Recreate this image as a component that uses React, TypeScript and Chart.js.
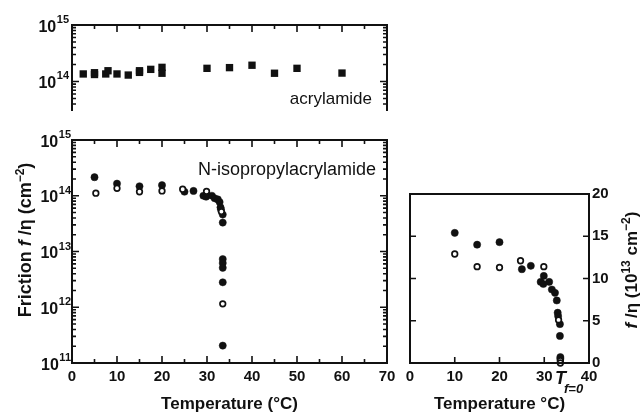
import React, { useEffect, useRef } from 'react';
import { Chart, registerables } from 'chart.js';
Chart.register(...registerables);

const W = 641;
const H = 416;
const FAMILY = '"Liberation Sans", Arial, Helvetica, sans-serif';
const INK = '#111';

// ---------- data: top panel (acrylamide), friction f/eta in cm^-2 ----------
const acrylT = [2.5, 5, 5, 7.5, 8, 10, 12.5, 15, 15, 17.5, 20, 20, 30, 35, 40, 45, 50, 60];
const acrylF = [1.36e14, 1.43e14, 1.33e14, 1.36e14, 1.55e14, 1.36e14, 1.3e14, 1.55e14, 1.45e14, 1.64e14, 1.78e14, 1.4e14, 1.71e14, 1.76e14, 1.94e14, 1.4e14, 1.71e14, 1.41e14];

// ---------- data: middle panel (N-isopropylacrylamide), log scale ----------
const nipaFilledT = [5, 10, 15, 20, 25, 27, 29.2, 29.8, 29.9, 31.1, 31.7, 32.4, 32.8, 33.0, 33.1, 33.5, 33.5, 33.5, 33.5, 33.5, 33.5, 33.5];
const nipaFilledF = [2.15e14, 1.65e14, 1.48e14, 1.55e14, 1.18e14, 1.22e14, 1.0e14, 0.96e14, 1.07e14, 1.0e14, 0.9e14, 0.86e14, 0.77e14, 0.62e14, 0.57e14, 4.6e13, 3.3e13, 7.3e12, 6.2e12, 5.1e12, 2.8e12, 2.05e11];
const nipaOpenT = [5.3, 10, 15, 20, 24.6, 29.9, 33.2, 33.5];
const nipaOpenF = [1.11e14, 1.36e14, 1.18e14, 1.22e14, 1.31e14, 1.2e14, 5.2e13, 1.15e12];

// ---------- data: right panel, linear, units of 10^13 cm^-2 ----------
const linFilledT = [10, 15, 20, 25, 27, 29.2, 29.8, 29.9, 31.1, 31.7, 32.4, 32.8, 33.0, 33.1, 33.5, 33.5, 33.6, 33.6];
const linFilledV = [15.4, 14.0, 14.3, 11.1, 11.5, 9.6, 9.35, 10.3, 9.6, 8.7, 8.3, 7.4, 5.95, 5.55, 4.6, 3.2, 0.7, 0.5];
const linOpenT = [10, 15, 20, 24.7, 29.9, 33.2, 33.6, 33.6];
const linOpenV = [12.9, 11.4, 11.3, 12.1, 11.4, 5.1, 0.27, 0.0];

// ---------- ticks / labels ----------
const tempMajor = [0, 10, 20, 30, 40, 50, 60, 70];
const tempMinor = [5, 15, 25, 35, 45, 55, 65];
const rightTempMajor = [10, 20, 30];
const rightValMajor = [5, 10, 15];
const topDecades = [14, 15];
const midDecades = [11, 12, 13, 14, 15];
const minorMultipliers = [2, 3, 4, 5, 6, 7, 8, 9];

const xTitleLeft = 'Temperature (°C)';
const xTitleRight = 'Temperature °C)';

function bold(size: number, italic = false) {
  return `${italic ? 'italic ' : ''}bold ${size}px ${FAMILY}`;
}

type Seg = { t: string; size: number; italic?: boolean; rise?: number; weight?: string };

function segFont(s: Seg) {
  return `${s.italic ? 'italic ' : ''}${s.weight ?? 'bold'} ${s.size}px ${FAMILY}`;
}

function drawRich(ctx: CanvasRenderingContext2D, segs: Seg[], x: number, y: number, align: 'left' | 'center' | 'right', angle = 0) {
  ctx.save();
  ctx.translate(x, y);
  ctx.rotate(angle);
  ctx.textAlign = 'left';
  ctx.textBaseline = 'alphabetic';
  ctx.fillStyle = INK;
  let w = 0;
  for (const s of segs) {
    ctx.font = segFont(s);
    w += ctx.measureText(s.t).width;
  }
  let cx = align === 'center' ? -w / 2 : align === 'right' ? -w : 0;
  for (const s of segs) {
    ctx.font = segFont(s);
    ctx.fillText(s.t, cx, -(s.rise ?? 0));
    cx += ctx.measureText(s.t).width;
  }
  ctx.restore();
}

function logMinors(exps: number[]) {
  const out: number[] = [];
  for (let i = 0; i < exps.length - 1; i++) {
    for (const m of minorMultipliers) out.push(m * Math.pow(10, exps[i]));
  }
  return out;
}

type FrameOpts = {
  top: boolean; bottom: boolean; left: boolean; right: boolean;
  xMajor: number[]; xMinor: number[]; xTop: boolean; xBottom: boolean;
  yMajor: number[]; yMinor: number[]; yLeft: boolean; yRight: boolean;
  majorLen: number; minorLen: number;
};

function drawFrame(chart: any, o: FrameOpts) {
  const { ctx, chartArea: a, scales } = chart;
  const xs = scales.x;
  const ys = scales.y;
  ctx.save();
  ctx.strokeStyle = INK;
  ctx.lineWidth = 2;
  ctx.lineCap = 'square';
  ctx.beginPath();
  if (o.top) { ctx.moveTo(a.left, a.top); ctx.lineTo(a.right, a.top); }
  if (o.bottom) { ctx.moveTo(a.left, a.bottom); ctx.lineTo(a.right, a.bottom); }
  if (o.left) { ctx.moveTo(a.left, a.top); ctx.lineTo(a.left, a.bottom); }
  if (o.right) { ctx.moveTo(a.right, a.top); ctx.lineTo(a.right, a.bottom); }
  ctx.stroke();
  ctx.lineCap = 'butt';
  ctx.lineWidth = 1.6;
  ctx.beginPath();
  const xt = (vals: number[], len: number) => {
    for (const v of vals) {
      const px = xs.getPixelForValue(v);
      if (px < a.left + 1 || px > a.right - 1) continue;
      if (o.xTop) { ctx.moveTo(px, a.top); ctx.lineTo(px, a.top + len); }
      if (o.xBottom) { ctx.moveTo(px, a.bottom); ctx.lineTo(px, a.bottom - len); }
    }
  };
  const yt = (vals: number[], len: number) => {
    for (const v of vals) {
      const py = ys.getPixelForValue(v);
      if (py < a.top + 1 || py > a.bottom - 1) continue;
      if (o.yLeft) { ctx.moveTo(a.left, py); ctx.lineTo(a.left + len, py); }
      if (o.yRight) { ctx.moveTo(a.right, py); ctx.lineTo(a.right - len, py); }
    }
  };
  xt(o.xMajor, o.majorLen);
  xt(o.xMinor, o.minorLen);
  yt(o.yMajor, o.majorLen);
  yt(o.yMinor, o.minorLen);
  ctx.stroke();
  ctx.restore();
}

function drawDecadeLabels(chart: any, exps: number[], rightEdge: number) {
  const { ctx } = chart;
  const ys = chart.scales.y;
  ctx.save();
  ctx.fillStyle = INK;
  ctx.textAlign = 'left';
  ctx.textBaseline = 'alphabetic';
  for (const e of exps) {
    const y = ys.getPixelForValue(Math.pow(10, e));
    ctx.font = bold(11);
    const es = String(e);
    const ew = ctx.measureText(es).width;
    const xe = rightEdge - ew;
    ctx.fillText(es, xe, y - 2);
    ctx.font = bold(16);
    const w10 = ctx.measureText('10').width;
    ctx.fillText('10', xe - 0.5 - w10, y + 6.7);
  }
  ctx.restore();
}

function pts(xs: number[], ys: number[]) {
  return xs.map((x, i) => ({ x, y: ys[i] }));
}

const filledStyle = { pointRadius: 3.6, pointBackgroundColor: INK, pointBorderColor: INK, pointBorderWidth: 0.5, showLine: false };
const openStyle = { pointRadius: 2.8, pointBackgroundColor: '#fff', pointBorderColor: INK, pointBorderWidth: 1.7, showLine: false };

const tickFont = (size: number) => ({ family: FAMILY, size, weight: 'bold' as const });

function topConfig(): any {
  return {
    type: 'scatter',
    data: {
      datasets: [
        { data: pts(acrylT, acrylF), pointStyle: 'rect', pointRadius: 5.2, pointBackgroundColor: INK, pointBorderColor: INK, pointBorderWidth: 0, showLine: false },
      ],
    },
    options: {
      responsive: false,
      animation: false,
      layout: { padding: { left: 72, right: W - 387, top: 25, bottom: H - 110 } },
      plugins: { legend: { display: false }, tooltip: { enabled: false } },
      scales: {
        x: { type: 'linear', display: false, min: 0, max: 70 },
        y: { type: 'logarithmic', display: false, min: 3.13e13, max: 1e15 },
      },
    },
    plugins: [
      {
        id: 'topFrame',
        afterDraw(chart: any) {
          drawFrame(chart, {
            top: true, bottom: false, left: true, right: true,
            xMajor: tempMajor, xMinor: tempMinor, xTop: true, xBottom: false,
            yMajor: [1e14], yMinor: [4e13, 5e13, 6e13, 7e13, 8e13, 9e13, ...logMinors(topDecades)], yLeft: true, yRight: true,
            majorLen: 7, minorLen: 4,
          });
          drawDecadeLabels(chart, topDecades, 69);
          drawRich(chart.ctx, [{ t: 'acrylamide', size: 17, weight: 'normal' }], 372, 104, 'right');
        },
      },
    ],
  };
}

function midConfig(): any {
  return {
    type: 'scatter',
    data: {
      datasets: [
        { data: pts(nipaOpenT, nipaOpenF), ...openStyle },
        { data: pts(nipaFilledT, nipaFilledF), ...filledStyle },
      ],
    },
    options: {
      responsive: false,
      animation: false,
      layout: { padding: { left: 72, right: W - 387, top: 140, bottom: 0 } },
      plugins: { legend: { display: false }, tooltip: { enabled: false } },
      scales: {
        x: {
          type: 'linear', position: 'bottom', min: 0, max: 70,
          ticks: { stepSize: 10, padding: 5, color: INK, font: tickFont(15), maxRotation: 0, autoSkip: false },
          grid: { display: false, drawTicks: false },
          border: { display: false },
          title: { display: true, text: xTitleLeft, color: INK, font: tickFont(17), padding: { top: 0, bottom: 1 } },
          afterFit: (s: any) => { s.height = H - 363; },
        },
        y: { type: 'logarithmic', display: false, min: 1e11, max: 1e15 },
      },
    },
    plugins: [
      {
        id: 'midFrame',
        afterDraw(chart: any) {
          drawFrame(chart, {
            top: true, bottom: true, left: true, right: true,
            xMajor: tempMajor, xMinor: tempMinor, xTop: true, xBottom: true,
            yMajor: midDecades.map((e) => Math.pow(10, e)), yMinor: logMinors(midDecades), yLeft: true, yRight: true,
            majorLen: 7, minorLen: 4,
          });
          drawDecadeLabels(chart, midDecades, 71);
          drawRich(chart.ctx, [{ t: 'N-isopropylacrylamide', size: 18, weight: 'normal' }], 376, 175, 'right');
          drawRich(chart.ctx, [
            { t: 'Friction ', size: 18 },
            { t: 'f', size: 18, italic: true },
            { t: ' /η (cm', size: 18 },
            { t: '−2', size: 12, rise: 7 },
            { t: ')', size: 18 },
          ], 31, 240, 'center', -Math.PI / 2);
        },
      },
    ],
  };
}

function rightConfig(): any {
  return {
    type: 'scatter',
    data: {
      datasets: [
        { data: pts(linOpenT, linOpenV), ...openStyle, clip: false },
        { data: pts(linFilledT, linFilledV), ...filledStyle, clip: false },
      ],
    },
    options: {
      responsive: false,
      animation: false,
      layout: { padding: { left: 410, right: 0, top: 194, bottom: 0 } },
      plugins: { legend: { display: false }, tooltip: { enabled: false } },
      scales: {
        x: {
          type: 'linear', position: 'bottom', min: 0, max: 40,
          ticks: { stepSize: 10, padding: 5, color: INK, font: tickFont(15), maxRotation: 0, autoSkip: false },
          grid: { display: false, drawTicks: false },
          border: { display: false },
          title: { display: true, text: xTitleRight, color: INK, font: tickFont(17), padding: { top: 0, bottom: 1 } },
          afterFit: (s: any) => { s.height = H - 363; },
        },
        y: {
          type: 'linear', position: 'right', min: 0, max: 20,
          ticks: { stepSize: 5, padding: 3, color: INK, font: tickFont(15) },
          grid: { display: false, drawTicks: false },
          border: { display: false },
          afterFit: (s: any) => { s.width = W - 589; },
        },
      },
    },
    plugins: [
      {
        id: 'rightFrame',
        afterDraw(chart: any) {
          drawFrame(chart, {
            top: true, bottom: true, left: true, right: true,
            xMajor: rightTempMajor, xMinor: [], xTop: false, xBottom: true,
            yMajor: rightValMajor, yMinor: [], yLeft: true, yRight: true,
            majorLen: 6, minorLen: 3,
          });
          const ctx = chart.ctx;
          drawRich(ctx, [
            { t: 'f', size: 17, italic: true },
            { t: ' /η (10', size: 17 },
            { t: '13', size: 12, rise: 7 },
            { t: ' cm', size: 17 },
            { t: '−2', size: 12, rise: 7 },
            { t: ')', size: 17 },
          ], 637, 270, 'center', -Math.PI / 2);
          drawRich(ctx, [{ t: 'T', size: 18, italic: true }], 555, 384, 'left');
          drawRich(ctx, [{ t: 'f=0', size: 13, italic: true }], 564, 393, 'left');
        },
      },
    ],
  };
}

export default function App() {
  const topRef = useRef<HTMLCanvasElement>(null);
  const midRef = useRef<HTMLCanvasElement>(null);
  const rightRef = useRef<HTMLCanvasElement>(null);

  useEffect(() => {
    const charts = [
      new Chart(topRef.current as HTMLCanvasElement, topConfig()),
      new Chart(midRef.current as HTMLCanvasElement, midConfig()),
      new Chart(rightRef.current as HTMLCanvasElement, rightConfig()),
    ];
    return () => charts.forEach((c) => c.destroy());
  }, []);

  const cs: React.CSSProperties = { position: 'absolute', left: 0, top: 0, width: W, height: H };
  return (
    <div style={{ position: 'fixed', left: 0, top: 0, width: W, height: H, background: '#fff', overflow: 'hidden' }}>
      <canvas ref={topRef} width={W} height={H} style={cs} />
      <canvas ref={midRef} width={W} height={H} style={cs} />
      <canvas ref={rightRef} width={W} height={H} style={cs} />
    </div>
  );
}
